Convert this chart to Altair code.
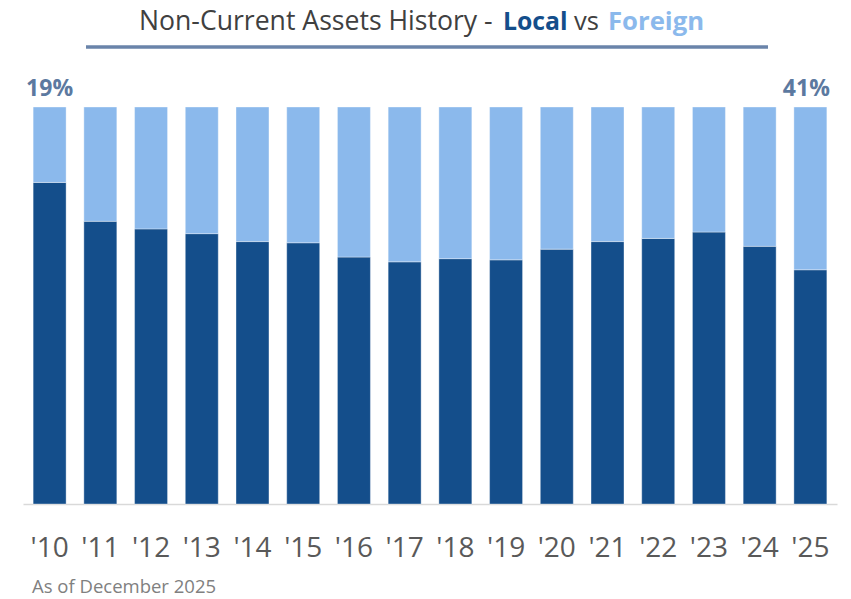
import altair as alt
import pandas as pd

years = ["'10", "'11", "'12", "'13", "'14", "'15", "'16", "'17",
         "'18", "'19", "'20", "'21", "'22", "'23", "'24", "'25"]
local_pct = [81.0, 71.2, 69.3, 68.1, 66.1, 65.8, 62.2, 61.0,
             61.8, 61.5, 64.2, 66.1, 66.9, 68.5, 64.9, 59.0]
foreign_pct = [19.0, 28.8, 30.7, 31.9, 33.9, 34.2, 37.8, 39.0,
               38.2, 38.5, 35.8, 33.9, 33.1, 31.5, 35.1, 41.0]
label_years = ["'10", "'25"]
label_texts = ["19%", "41%"]

FONT = "Open Sans"
DARK = "#144e8b"
LIGHT = "#8bb9ec"

rows = []
for y, l, f in zip(years, local_pct, foreign_pct):
    rows.append({"year": y, "type": "Local", "value": l, "ord": 0})
    rows.append({"year": y, "type": "Foreign", "value": f, "ord": 1})
df = pd.DataFrame(rows)

xscale = alt.Scale(domain=years, paddingInner=0.35, paddingOuter=0.2)

bars = alt.Chart(df).mark_bar(stroke="#ffffff", strokeWidth=0.8, strokeOpacity=0.45).encode(
    x=alt.X("year:N", scale=xscale, sort=years,
            axis=alt.Axis(title=None, labelAngle=0, labelFontSize=28, labelFont=FONT,
                          labelColor="#595959", ticks=False, domainColor="#d9d9d9",
                          domainWidth=1.5, labelPadding=30)),
    y=alt.Y("value:Q", stack="zero", scale=alt.Scale(domain=[0, 100], nice=False), axis=None),
    color=alt.Color("type:N", scale=alt.Scale(domain=["Local", "Foreign"], range=[DARK, LIGHT]),
                    legend=None),
    order=alt.Order("ord:Q"),
)

def pct_label(i, dx):
    d = pd.DataFrame({"year": [label_years[i]], "t": [label_texts[i]]})
    return alt.Chart(d).mark_text(font=FONT, fontSize=23, fontWeight="bold", dx=dx,
                                  color="#5c79a0", baseline="alphabetic").encode(
        x=alt.X("year:N", scale=xscale, sort=years),
        y=alt.value(-11),
        text="t:N",
    )

p1 = pct_label(0, 0)
p2 = pct_label(1, -4)

def txt(s, x, y, size, color, weight="normal"):
    return alt.Chart(pd.DataFrame({"t": [s]})).mark_text(
        font=FONT, fontSize=size, fontWeight=weight, color=color,
        align="left", baseline="alphabetic").encode(
        x=alt.value(x), y=alt.value(y), text="t:N")

t1 = txt("Non-Current Assets History -", 116, -77, 26.6, "#404040")
t2 = txt("Local", 480, -77, 24.8, DARK, "bold")
t3 = txt("vs", 551, -77, 25.5, "#404040")
t4 = txt("Foreign", 585, -77, 25.7, LIGHT, "bold")
footer = txt("As of December 2025", 9, 486, 18.5, "#808080")

underline = alt.Chart(pd.DataFrame({"a": [1]})).mark_rule(
    color="#6a84aa", strokeWidth=3.5).encode(
    x=alt.value(63), x2=alt.value(745), y=alt.value(-60))

chart = alt.layer(bars, p1, p2, t1, t2, t3, t4, footer, underline).properties(
    width=814, height=397,
    padding={"left": 15, "top": 99, "right": 6, "bottom": 94},
    autosize=alt.AutoSizeParams(type="none"),
).configure_view(stroke=None)

chart.save("out.html", embed_options={"renderer": "svg", "actions": False})
